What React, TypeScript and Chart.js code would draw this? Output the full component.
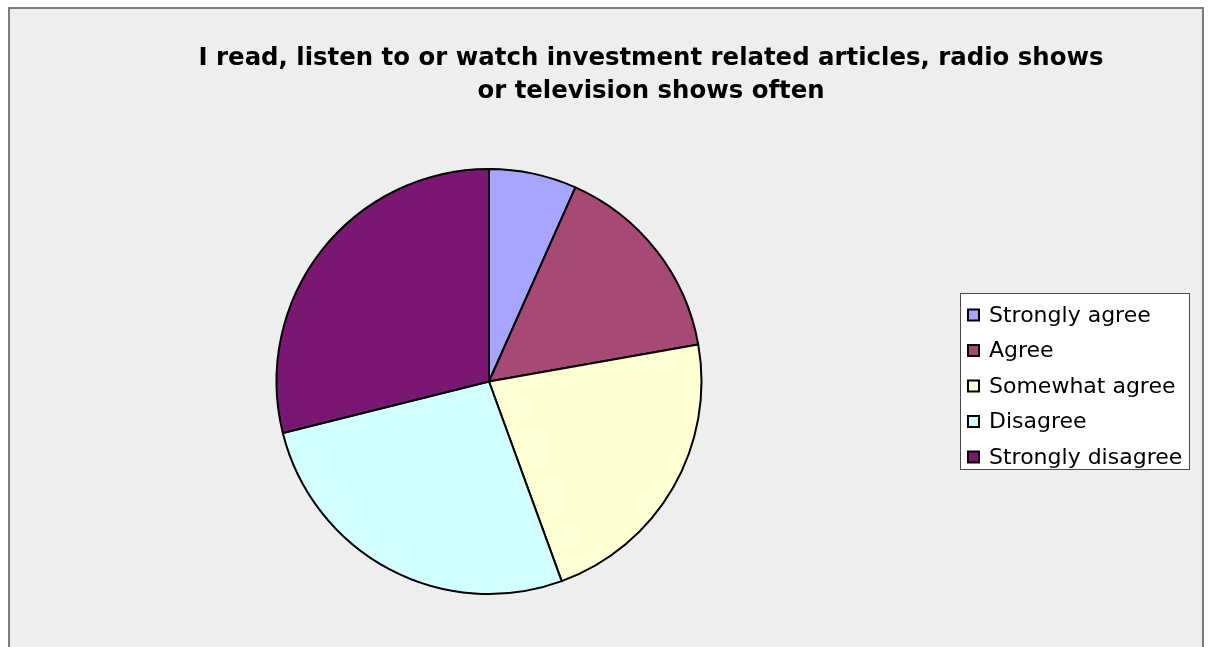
import React, { useEffect, useRef } from "react";
import { Chart, registerables } from "chart.js";

Chart.register(...registerables);

const TITLE_LINES = [
  "I read, listen to or watch investment related articles, radio shows",
  "or television shows often",
];
const CATEGORIES = ["Strongly agree", "Agree", "Somewhat agree", "Disagree", "Strongly disagree"];
const RESPONSES = [3, 7, 10, 12, 13];
const COLORS = ["#a6a6ff", "#a64a75", "#ffffd4", "#d2ffff", "#7a1772"];

const titlePlugin = {
  id: "customTitle",
  afterDraw(chart: any) {
    const ctx = chart.ctx;
    ctx.save();
    ctx.fillStyle = "#000";
    ctx.font = "bold 24.4px 'DejaVu Sans'";
    ctx.textAlign = "center";
    ctx.textBaseline = "alphabetic";
    TITLE_LINES.forEach((line, i) => {
      ctx.fillText(line, 651, 65 + i * 33);
    });
    ctx.restore();
  },
};

const legendPlugin = {
  id: "boxedLegend",
  afterDraw(chart: any) {
    const ctx = chart.ctx;
    const labels: string[] = chart.data.labels;
    const colors: string[] = chart.data.datasets[0].backgroundColor;
    ctx.save();
    ctx.fillStyle = "#ffffff";
    ctx.fillRect(960, 293, 229, 176);
    ctx.strokeStyle = "#4a4a4a";
    ctx.lineWidth = 1;
    ctx.strokeRect(960.5, 293.5, 229, 176);
    ctx.font = "22px 'DejaVu Sans'";
    ctx.textAlign = "left";
    ctx.textBaseline = "alphabetic";
    labels.forEach((lab, i) => {
      const base = 321.5 + i * 35.5;
      ctx.fillStyle = colors[i];
      ctx.fillRect(968, base - 12, 11, 11);
      ctx.strokeStyle = "#000";
      ctx.lineWidth = 2;
      ctx.strokeRect(968, base - 12, 11, 11);
      ctx.fillStyle = "#000";
      ctx.fillText(lab, 989, base);
    });
    ctx.restore();
  },
};

export default function App() {
  const ref = useRef<HTMLCanvasElement | null>(null);
  useEffect(() => {
    if (!ref.current) return;
    const chart = new Chart(ref.current, {
      type: "pie",
      data: {
        labels: CATEGORIES,
        datasets: [
          {
            data: RESPONSES,
            backgroundColor: COLORS,
            borderColor: "#000000",
            borderWidth: 2,
          },
        ],
      },
      options: {
        responsive: false,
        animation: false,
        devicePixelRatio: 1,
        layout: { padding: { left: 275.5, top: 168, right: 505.5, bottom: 52 } },
        plugins: {
          legend: { display: false },
          title: { display: false },
          tooltip: { enabled: false },
        },
      },
      plugins: [titlePlugin, legendPlugin],
    });
    return () => chart.destroy();
  }, []);

  return (
    <>
      <div
        style={{
          position: "absolute",
          left: 8,
          top: 7,
          width: 1196,
          height: 640,
          boxSizing: "border-box",
          background: "#eeeeee",
          borderTop: "2px solid #7c7c7c",
          borderLeft: "2px solid #7c7c7c",
          borderRight: "2px solid #7c7c7c",
        }}
      />
      <canvas
        ref={ref}
        width={1208}
        height={647}
        style={{ position: "absolute", left: 0, top: 0, width: 1208, height: 647 }}
      />
    </>
  );
}
